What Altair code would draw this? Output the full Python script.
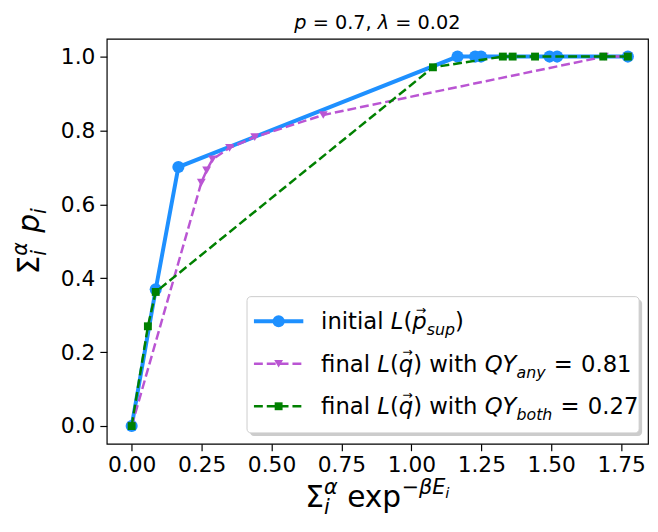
import altair as alt
import pandas as pd

# ---------------- data ----------------
initial_x = [0.0, 0.086, 0.167, 1.165, 1.228, 1.249, 1.494, 1.521, 1.774]
initial_y = [0.0, 0.370, 0.701, 1.0, 1.0, 1.0, 1.0, 1.0, 1.0]
any_x = [0.0, 0.249, 0.268, 0.289, 0.350, 0.440, 0.685, 1.690, 1.774]
any_y = [0.0, 0.659, 0.692, 0.722, 0.753, 0.782, 0.842, 1.0, 1.0]
both_x = [0.0, 0.058, 0.086, 1.077, 1.327, 1.362, 1.442, 1.686, 1.774]
both_y = [0.0, 0.270, 0.363, 0.971, 1.0, 1.0, 1.0, 1.0, 1.0]
x_ticks = [0.0, 0.25, 0.5, 0.75, 1.0, 1.25, 1.5, 1.75]
y_ticks = [0.0, 0.2, 0.4, 0.6, 0.8, 1.0]
qy_any = "0.81"
qy_both = "0.27"

# ---------------- styles ----------------
FONT = "DejaVu Sans"
BLUE, PURPLE, GREEN = "#1E90FF", "#BA55D3", "#008000"
OX, OY = 108, 36          # page position of the plot area's top-left corner
W, H = 548, 410

one = pd.DataFrame({"k": [0]})

ADV = {' ': 0.318, '(': 0.390, ')': 0.390, ',': 0.318, '.': 0.318, '=': 0.838,
       'E': 0.632, 'L': 0.557, 'Q': 0.787, 'Y': 0.611, 'a': 0.613, 'b': 0.635,
       'e': 0.615, 'f': 0.352, 'h': 0.634, 'i': 0.278, 'l': 0.278, 'n': 0.634,
       'o': 0.612, 'p': 0.635, 'q': 0.635, 's': 0.521, 't': 0.392, 'u': 0.634,
       'w': 0.818, 'x': 0.592, 'y': 0.592, 'Σ': 0.632, 'α': 0.659, 'β': 0.635,
       'λ': 0.592, '−': 0.838, '→': 0.838}


def tw(s, size):
    return sum(ADV.get(c, 0.636) for c in s) * size


def txt(s, X, Y, size, italic=False, angle=0, align="left", baseline="alphabetic", color="black"):
    kw = dict(align=align, baseline=baseline, font=FONT, fontSize=size, color=color)
    if italic:
        kw["fontStyle"] = "italic"
    if angle:
        kw["angle"] = angle
    return alt.Chart(one).mark_text(**kw).encode(
        x=alt.value(X - OX), y=alt.value(Y - OY), text=alt.value(s))


def run(items, X0, Y0, vertical=False, center=False):
    total = sum(it.get("adv", tw(it["t"], it["s"]) + it.get("pad", 0)) for it in items)
    if center:
        if vertical:
            Y0 = Y0 + total / 2
        else:
            X0 = X0 - total / 2
    layers, cur = [], 0.0
    for it in items:
        t = it["t"]
        pad = it.get("pad", 0)
        adv = it.get("adv", tw(t, it["s"]) + pad)
        lead = tw(t[:len(t) - len(t.lstrip(" "))], it["s"]) + pad / 2
        dx = it.get("dx", 0) + lead
        r = it.get("r", 0)
        s = t.strip(" ")
        if s:
            if vertical:
                layers.append(txt(s, X0 - r, Y0 - cur - dx, it["s"], it.get("i", False), angle=270))
            else:
                layers.append(txt(s, X0 + cur + dx, Y0 - r, it["s"], it.get("i", False)))
        cur += adv
    return layers


# ---------------- scales / axes ----------------
xscale = alt.Scale(domain=[-0.089, 1.846], nice=False, zero=False)
yscale = alt.Scale(domain=[-0.048, 1.048], nice=False, zero=False)
xaxis = alt.Axis(values=x_ticks, format=".2f", title=None, grid=False, domain=False,
                 tickSize=7, tickWidth=1.2, tickColor="black", labelColor="black",
                 labelFont=FONT, labelFontSize=22, labelPadding=4, labelFlush=False)
yaxis = alt.Axis(values=y_ticks, format=".1f", title=None, grid=False, domain=False,
                 tickSize=7, tickWidth=1.2, tickColor="black", labelColor="black",
                 labelFont=FONT, labelFontSize=22, labelPadding=5)


def series(xs, ys, color, width, dash, shape, size):
    df = pd.DataFrame({"x": xs, "y": ys, "o": list(range(len(xs)))})
    base = alt.Chart(df).encode(
        x=alt.X("x:Q", scale=xscale, axis=xaxis),
        y=alt.Y("y:Q", scale=yscale, axis=yaxis),
        order="o:Q")
    lkw = dict(color=color, strokeWidth=width)
    if dash:
        lkw["strokeDash"] = dash
    return [base.mark_line(**lkw),
            base.mark_point(shape=shape, filled=True, size=size, color=color, opacity=1)]


layers = []
layers += series(initial_x, initial_y, BLUE, 4, None, "circle", 150)
layers += series(any_x, any_y, PURPLE, 2.5, [9, 4], "triangle-down", 80)
layers += series(both_x, both_y, GREEN, 2.5, [9, 4], "square", 64)

# ---------------- legend ----------------
LX0, LX1, LY0, LY1 = 250, 647, 297, 435
layers.append(alt.Chart(one).mark_rect(fill="#999999", opacity=0.5, cornerRadius=4).encode(
    x=alt.value(LX0 + 3 - OX), x2=alt.value(LX1 + 3 - OX),
    y=alt.value(LY0 + 3 - OY), y2=alt.value(LY1 + 3 - OY)))
layers.append(alt.Chart(one).mark_rect(fill="white", stroke="#cccccc", strokeWidth=1,
                                       cornerRadius=4).encode(
    x=alt.value(LX0 - OX), x2=alt.value(LX1 - OX),
    y=alt.value(LY0 - OY), y2=alt.value(LY1 - OY)))

rows = [(BLUE, 4, None, "circle", 150, 322, 330),
        (PURPLE, 2.5, [9, 4], "triangle-down", 80, 365, 373),
        (GREEN, 2.5, [9, 4], "square", 64, 408, 416)]
for color, width, dash, shape, size, ly, _ in rows:
    rkw = dict(color=color, strokeWidth=width)
    if dash:
        rkw["strokeDash"] = dash
    layers.append(alt.Chart(one).mark_rule(**rkw).encode(
        x=alt.value(257 - OX), x2=alt.value(307 - OX), y=alt.value(ly - OY)))
    layers.append(alt.Chart(one).mark_point(shape=shape, filled=True, size=size, color=color,
                                            opacity=1).encode(
        x=alt.value(282 - OX), y=alt.value(ly - OY)))

LS, SS = 23, 16
TX = 325
arrow = lambda: {"t": "→", "s": 12.5, "r": 15.5, "adv": 0, "dx": 3.5}
row1 = [{"t": "initial ", "s": LS}, {"t": "L", "s": LS, "i": True}, {"t": "(", "s": LS},
        arrow(), {"t": "p", "s": LS, "i": True},
        {"t": "sup", "s": SS, "i": True, "r": -6}, {"t": ")", "s": LS}]
layers += run(row1, TX, rows[0][6])
for (sub, val), r in zip([("any", qy_any), ("both", qy_both)], rows[1:]):
    items = [{"t": "final ", "s": LS}, {"t": "L", "s": LS, "i": True}, {"t": "(", "s": LS},
             arrow(), {"t": "q", "s": LS, "i": True}, {"t": ")", "s": LS},
             {"t": " with ", "s": LS}, {"t": "QY", "s": LS, "i": True},
             {"t": sub, "s": SS, "i": True, "r": -6}, {"t": " = ", "s": LS, "pad": 2},
             {"t": val, "s": LS}]
    layers += run(items, TX, r[6])

# ---------------- title and axis titles ----------------
TS = 19.5
title_items = [{"t": "p", "s": TS, "i": True}, {"t": " = 0.7, ", "s": TS},
               {"t": "λ", "s": TS, "i": True}, {"t": " = 0.02", "s": TS}]
layers += run(title_items, OX + W / 2, 26, center=True)

AS, AS2, AS3 = 30, 21, 15
xt = [{"t": "Σ", "s": AS}, {"t": "i", "s": AS2, "i": True, "r": -7, "adv": 0},
      {"t": "α", "s": AS2, "i": True, "r": 13}, {"t": " ", "s": AS},
      {"t": "exp", "s": AS}, {"t": "−βE", "s": AS2, "r": 13, "i": True},
      {"t": "i", "s": AS3, "i": True, "r": 9}]
layers += run(xt, OX + W / 2, 510, center=True)

yt = [{"t": "Σ", "s": AS}, {"t": "i", "s": AS2, "i": True, "r": -7, "adv": 0},
      {"t": "α", "s": AS2, "i": True, "r": 12}, {"t": " ", "s": AS},
      {"t": "p", "s": AS, "i": True}, {"t": "i", "s": AS2, "i": True, "r": -7}]
layers += run(yt, 39, OY + H / 2, vertical=True, center=True)

chart = alt.layer(*layers).properties(
    width=W, height=H,
    padding={"left": OX - 8, "top": OY - 8, "right": 2, "bottom": 80},
    autosize=alt.AutoSizeParams(type="none"),
    background="white",
).configure_view(stroke="black", strokeWidth=1.2)

chart.save("out.html", embed_options={"renderer": "svg", "actions": False})
